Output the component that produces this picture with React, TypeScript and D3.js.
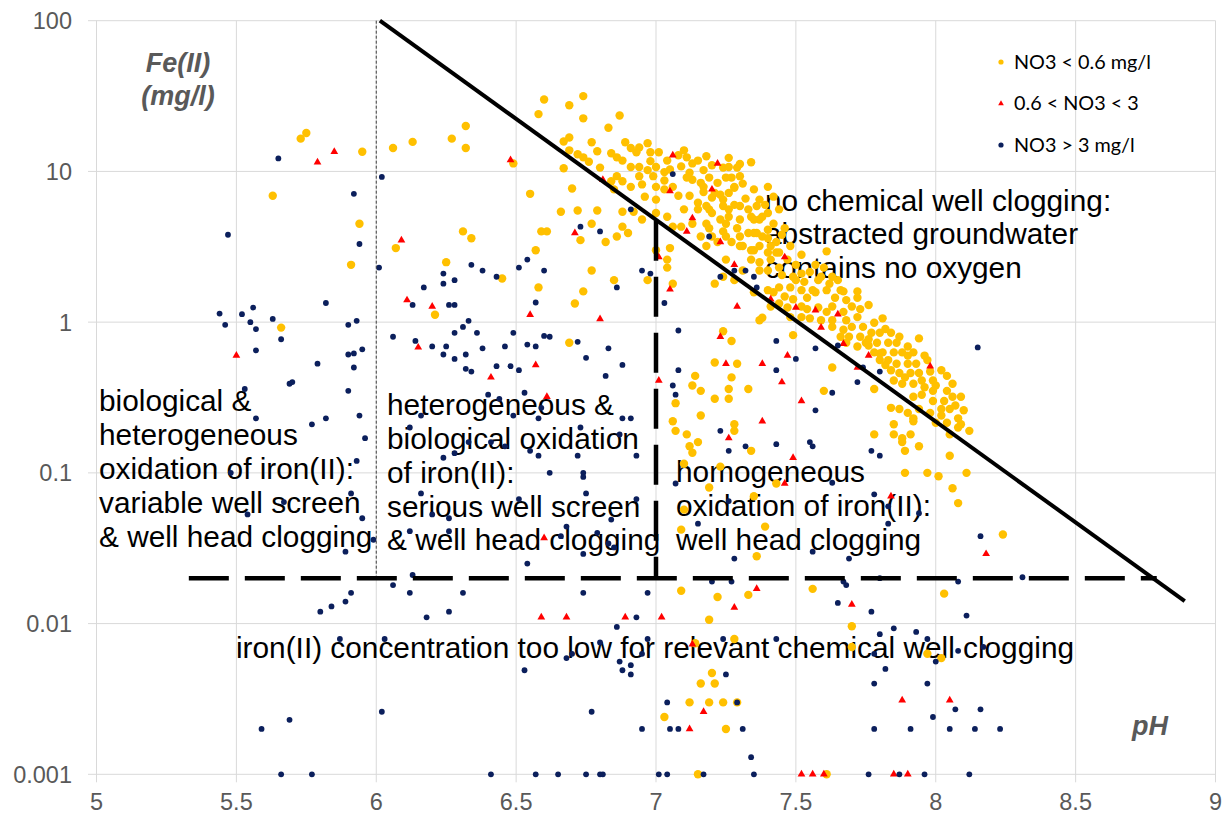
import * as d3 from 'd3';
import React from 'react';

// pH ticks and Fe(II) decades
const xTicks = [5, 5.5, 6, 6.5, 7, 7.5, 8, 8.5, 9];
const yTicks = [0.001, 0.01, 0.1, 1, 10, 100];

const legendLabels = ['NO3 < 0.6 mg/l', '0.6 < NO3 < 3', 'NO3 > 3 mg/l'];

// [pH, Fe(II) mg/l]  NO3 < 0.6 mg/l
const lowNO3: [number, number][] = [
  [5.73,16.5],[5.75,18],[5.63,6.9],[5.95,13.5],[6.06,14.3],[6.13,15.7],[5.94,4.5],[6.07,3.1],[5.91,2.4],[5.66,0.92],
  [6.27,16.5],[6.32,20],[6.32,14.3],[6.49,11.3],[6.25,2.5],[6.31,4.0],[6.34,3.6],[6.45,1.95],[6.21,1.12],[6.55,7.1],
  [6.59,4.0],[6.61,4.0],[6.57,3.0],[6.58,1.7],[6.69,0.73],
  [6.60,30],[6.74,31.6],[6.69,27.5],[6.58,24],[6.74,22.5],[6.87,23.5],[6.83,19.5],
  [6.67,15.8],[6.69,16.8],[6.77,15.6],[6.79,13.6],[6.69,13.8],[6.72,13],[6.74,12.4],[6.76,11.6],[6.80,10.6],[6.84,13.2],[6.86,12.4],[6.89,15.6],[6.91,14.3],[6.93,13.4],[6.94,14.4],[6.97,15.4],[6.98,13.4],[7.01,13.4],[7.04,11.8],[7.08,12.8],[7.11,12.4],[7.13,11.3],[7.15,11.8],
  [6.88,11.8],[6.91,10.7],[6.94,10.7],[6.97,10.2],[7.00,10.7],[7.03,9.9],[6.99,9.3],[6.94,9.3],[6.86,9.3],[6.84,8.6],[6.88,8.6],[6.91,7.9],[6.85,7.6],[7.00,7.9],[7.03,7.6],[7.06,7.9],[7.11,9.1],[7.13,8.8],[7.16,8.4],[7.19,9.1],[7.22,8.4],[7.24,10.6],[7.26,10.7],[7.29,10.6],[7.25,9.1],[7.27,9.1],[7.30,9.3],[7.28,7.8],[7.34,11.5],
  [7.20,6.7],[7.23,7.0],[7.12,6.9],[7.15,6.2],[7.10,5.6],[7.15,5.6],[7.18,5.9],[7.20,5.3],[7.24,5.9],[7.26,5.6],[7.30,5.9],[7.33,5.6],[7.36,5.9],[7.23,4.8],[7.25,4.5],[7.30,4.8],[7.35,4.8],[7.38,5.0],[7.18,4.5],[7.13,4.5],[7.09,4.3],[7.06,4.3],[7.16,3.7],[7.20,3.7],[7.25,3.7],[7.30,3.7],[7.35,3.9],[7.38,3.7],[7.31,3.2],[7.35,3.0],[7.40,2.9],[7.44,2.9],[7.48,3.2],
  [7.04,5.0],[7.00,5.3],[6.95,4.8],[6.92,5.4],[6.88,5.4],[6.77,4.5],[6.88,4.3],[6.90,3.9],[6.86,3.7],[6.82,3.4],[6.73,3.5],[6.66,5.4],[6.72,5.5],[6.79,5.5],[6.70,7.7],[6.67,10.5],[7.05,3.1],[7.04,2.6],[7.04,2.3],[7.00,3.0],[6.77,2.2],[6.85,1.9],[6.97,1.9],[7.06,1.8],[7.21,1.8],
  [7.24,0.87],[7.27,0.75],[7.21,0.54],[7.29,0.53],[7.14,0.44],[7.27,0.43],[7.13,0.38],[7.16,0.35],[7.26,0.36],[7.21,0.31],[7.26,0.31],[7.33,0.36],[7.07,0.29],[7.16,0.24],[7.28,0.21],[7.28,0.19],[7.06,0.22],[7.07,0.19],[7.11,0.18],[7.15,0.16],[7.12,0.15],[7.13,0.136],[7.34,0.14],[7.10,0.115],[7.23,0.11],[7.19,0.08],[7.43,0.085],[7.35,0.07],[7.10,0.057],[7.39,0.044],[7.09,0.042],
  [7.37,2.2],[7.38,1.07],[7.49,0.82],[7.63,0.50],[7.60,0.35],[7.78,0.36],
  [7.17,7.9],[7.21,7.2],[7.24,6.5],[7.28,7.9],[7.31,8.3],[7.35,7.6],[7.37,6.5],[7.40,7.9],[7.19,5.6],[7.26,5.0],[7.34,5.0],[7.37,4.8],[7.40,5.3],[7.19,4.2],[7.24,4.0],[7.29,4.2],[7.33,3.9],[7.36,3.9],[7.40,4.1],[7.27,3.4],[7.30,3.2],[7.34,3.0],[7.37,3.2],[7.41,3.2],[7.43,2.9],[7.18,3.2],[7.22,3.4],[7.25,2.6],[7.34,2.6],[7.37,2.5],[7.41,2.6],[7.44,2.3],[7.31,2.2],[7.40,2.2],[7.45,2.05],[7.49,2.0],[7.52,2.1],[7.55,2.15],[7.61,2.95],[7.59,2.0],[7.63,2.0],[7.62,1.8],[7.66,1.63],[7.61,1.63],[7.56,1.63],[7.52,1.63],[7.48,1.7],[7.44,1.7],[7.40,1.63],[7.42,1.58],[7.46,1.48],[7.49,1.42],[7.54,1.45],[7.57,1.58],[7.72,1.6],[7.72,1.45],[7.70,1.27],[7.73,1.22],[7.76,1.3],[7.24,2.0],[7.28,1.9],[7.35,1.58],[7.41,1.27],[7.44,1.33],[7.47,1.25],[7.52,1.27],[7.54,1.22],[7.58,1.25],[7.61,1.17],[7.63,1.27],[7.67,1.17],[7.48,1.08],[7.52,1.08],[7.55,1.06],[7.59,1.03],[7.63,1.03],[7.68,1.03],[7.72,1.08],[7.63,0.93],[7.67,0.89],[7.70,0.93],[7.74,0.93],[7.78,0.99],[7.81,1.06],[7.84,0.85],[7.80,0.85],[7.77,0.85],[7.73,0.80],[7.69,0.80],[7.66,0.80],[7.68,0.73],[7.72,0.69],[7.75,0.73],[7.79,0.73],[7.83,0.73],[7.86,0.73],[7.90,0.69],[7.94,0.78],[7.78,0.63],[7.81,0.63],[7.85,0.63],[7.88,0.63],[7.92,0.63],[7.83,0.56],[7.86,0.53],[7.90,0.53],[7.93,0.53],[7.84,0.48],[7.87,0.46],[7.91,0.46],[7.94,0.46],[7.85,0.41],[7.88,0.39],[7.92,0.39],[7.95,0.41],[7.99,0.41],[8.04,0.44],[8.06,0.39],[8.04,0.35],[7.99,0.35],[7.95,0.33],[7.92,0.32],[7.99,0.30],[8.03,0.30],[8.06,0.32],[8.09,0.32],[8.02,0.265],[8.05,0.265],[7.98,0.25],[7.94,0.265],[8.08,0.23],[8.04,0.215],[8.09,0.21],[8.12,0.19],[7.84,0.27],[7.87,0.265],[7.90,0.25],[7.92,0.23],[7.85,0.21],[7.85,0.18],[7.91,0.18],[7.88,0.17],[7.78,0.18],[7.37,1.03],
  [8.08,0.20],[8.05,0.13],[8.11,0.10],[8.06,0.079],[8.08,0.063],[8.24,0.039],[7.88,0.16],[7.89,0.14],[7.94,0.15],[7.92,0.22],[7.89,0.10],[7.97,0.10],[8.01,0.095],[7.67,1.6],[7.97,0.56],[8.02,0.48],[8.02,0.24],
  [7.42,4.5],[7.45,3.8],[7.43,3.4],[7.47,2.6],[7.50,2.4],[7.52,2.8],[7.46,4.2],[7.40,3.6],[7.44,5.6],[7.39,6.0],[7.42,6.8],
  [7.58,1.9],[7.60,2.3],[7.65,1.9],[7.68,1.4],[7.64,1.45],[7.57,2.4],[7.53,1.85],[7.50,1.9],
  [7.76,0.70],[7.80,0.62],[7.82,0.90],[7.87,0.80],[7.90,0.60],[7.96,0.60],[7.98,0.47],[8.00,0.38],[7.96,0.37],[7.89,0.43],[7.82,0.52],[7.80,0.56],[7.76,0.77],[8.07,0.28],[8.10,0.26],[8.00,0.215],[8.05,0.18],
  [6.95,8.2],[6.98,11.7],[7.05,10.3],[7.09,10.8],[7.12,9.8],[7.17,10.2],[7.20,11.0],[7.03,8.7],[7.08,6.9],[7.00,6.5],[6.96,6.8],[7.17,7.3],[7.26,7.2],[7.32,6.6],[7.28,6.0],
  [7.18,12.6],[7.26,12.3],[7.30,11.2],[7.10,13.8],
  [7.36,0.028],[7.09,0.0165],[7.22,0.015],[7.33,0.0155],[7.19,0.0106],[7.28,0.0079],[7.14,0.0074],[7.20,0.0047],[7.16,0.004],[7.21,0.004],[7.12,0.003],[7.19,0.003],[7.24,0.003],[7.29,0.003],[7.03,0.0024],[7.25,0.002],[7.15,0.001],[7.56,0.017],[8.03,0.0158],[7.70,0.0096],[7.70,0.007],[7.97,0.0063],[8.02,0.0059],[7.61,0.001],[6.74,1.6],[6.71,1.33],
];

// 0.6 < NO3 < 3
const midNO3: [number, number][] = [
  [5.79,11.5],[5.85,13.5],[6.09,3.5],[6.48,11.9],[6.81,8.8],[7.06,12.8],[7.05,7.4],[7.20,7.6],[7.13,4.9],[7.11,4.0],[7.23,3.4],[7.22,11.3],[7.28,2.4],[7.46,2.7],[6.71,3.9],[7.01,2.7],
  [5.50,0.60],[6.11,1.4],[6.20,1.27],[6.15,0.68],[6.41,0.43],[6.55,1.12],[6.57,0.52],[6.61,0.32],[6.80,1.05],[6.60,0.037],[7.01,0.41],[7.05,1.65],[7.23,0.80],[7.25,0.53],[7.38,0.53],[7.47,0.60],[7.45,0.40],[7.52,0.30],[7.38,0.22],[7.26,0.17],[7.49,0.126],[7.46,0.085],
  [7.29,1.27],[7.41,1.42],[7.50,1.25],[7.57,1.2],[7.65,1.13],[7.59,0.92],[7.67,0.72],[7.76,0.60],[7.72,0.50],[7.98,0.51],
  [6.59,0.011],[6.68,0.011],[6.89,0.011],[7.02,0.011],[7.13,0.0073],[7.17,0.0026],[7.12,0.002],[7.28,0.0128],[7.36,0.017],[7.52,0.001],[7.56,0.001],[7.60,0.001],[8.18,0.029],[7.70,0.0134],[7.88,0.0031],[8.05,0.0031],[7.85,0.001],[7.90,0.001],[7.84,0.07],
];

// NO3 > 3 mg/l
const highNO3: [number, number][] = [
  [5.65,12.2],[6.02,9.2],[5.92,7.1],[5.47,3.8],[5.94,3.3],[6.01,2.3],
  [5.44,1.14],[5.46,0.96],[5.52,1.13],[5.56,1.25],[5.55,1.0],[5.57,0.90],[5.63,1.05],[5.66,0.77],[5.57,0.65],[5.82,1.34],[5.90,0.96],[5.93,1.02],[5.90,0.61],[5.92,0.62],[5.95,0.66],[5.92,0.50],[5.79,0.53],[5.69,0.39],[5.70,0.40],[5.90,0.35],[5.53,0.36],[5.57,0.23],[5.77,0.21],[5.82,0.23],[5.94,0.24],[5.96,0.17],[5.93,0.12],[5.48,0.10],[5.91,0.073],[5.67,0.064],[5.54,0.053],[5.95,0.05],[5.99,0.036],[5.89,0.030],
  [6.17,1.7],[6.24,2.1],[6.24,1.8],[6.28,1.9],[6.34,2.4],[6.38,2.2],[6.43,2.0],[6.51,2.3],[6.54,2.6],[6.60,2.2],[6.73,4.3],[6.80,4.0],[6.91,5.6],[7.06,9.6],[6.13,1.3],[6.26,1.3],[6.28,1.3],[6.57,1.35],[6.86,1.7],[6.95,2.2],[6.98,2.1],
  [6.06,0.80],[6.14,0.75],[6.20,0.69],[6.25,0.69],[6.28,0.85],[6.31,0.93],[6.33,1.02],[6.36,0.85],[6.24,0.61],[6.28,0.57],[6.32,0.61],[6.32,0.49],[6.34,0.47],[6.38,0.67],[6.43,0.51],[6.46,0.69],[6.49,0.85],[6.48,0.51],[6.51,0.48],[6.54,0.71],[6.57,0.69],[6.60,0.81],[6.62,0.80],[6.72,0.74],[6.75,0.58],[6.83,0.67],[6.82,0.44],[6.88,0.52],
  [6.40,0.33],[6.44,0.31],[6.53,0.34],[6.59,0.27],[6.58,0.23],[6.49,0.24],[6.16,0.24],[6.12,0.20],[6.33,0.16],[6.41,0.16],[6.46,0.15],[6.55,0.14],[6.58,0.13],[6.24,0.126],[6.28,0.135],[6.62,0.10],[6.74,0.10],[6.74,0.094],[6.73,0.20],[6.72,0.13],[6.87,0.18],[6.88,0.23],[6.91,0.23],[6.93,0.13],[6.75,0.073],[6.93,0.067],[6.16,0.073],[6.20,0.053],[6.26,0.05],[6.12,0.041],[6.26,0.041],[6.51,0.067],[6.68,0.044],[6.79,0.040],[6.84,0.049],[6.66,0.038],[6.54,0.025],[6.83,0.034],[6.85,0.032],[6.74,0.029],
  [6.13,0.021],[6.06,0.018],[6.12,0.016],[5.91,0.016],[6.31,0.016],[6.74,0.016],[6.97,0.016],[5.89,0.014],[5.84,0.013],[5.80,0.012],[5.87,0.0079],[6.03,0.0079],[6.02,0.0026],[5.69,0.0023],[5.59,0.002],[5.66,0.001],[5.77,0.001],[6.18,0.011],[6.26,0.012],
  [6.53,0.0049],[6.68,0.0059],[6.70,0.0063],[6.80,0.0075],[6.86,0.0095],[6.87,0.0056],[6.88,0.0049],[6.91,0.0053],[6.91,0.0046],[6.95,0.0063],[6.97,0.0079],[6.93,0.011],[6.77,0.0026],[6.95,0.002],[7.04,0.003],[7.05,0.002],[7.08,0.002],[7.31,0.002],[7.34,0.0013],[7.25,0.0046],[7.29,0.003],[7.24,0.0079],[7.43,0.0079],[7.20,0.019],[7.27,0.019],[7.28,0.027],[7.56,0.030],
  [6.41,0.001],[6.57,0.001],[6.65,0.001],[6.75,0.001],[6.80,0.001],[6.81,0.001],[7.01,0.001],[7.04,0.001],[7.17,0.001],[7.35,0.001],
  [7.69,0.027],[7.80,0.020],[7.67,0.019],[7.68,0.018],[7.65,0.0137],[7.77,0.012],[7.80,0.0085],[7.85,0.0093],[7.93,0.0088],[7.97,0.0079],[7.78,0.0063],[7.82,0.005],[8.00,0.0056],[8.08,0.0066],[7.78,0.004],[7.97,0.004],[7.99,0.0024],[8.07,0.0027],[8.16,0.0027],[7.78,0.002],[7.91,0.002],[8.05,0.002],[8.14,0.002],[8.23,0.002],[8.08,0.019],[8.11,0.0113],[8.31,0.0203],[7.76,0.001],[7.87,0.001],[7.96,0.001],[8.12,0.001],[8.17,0.007],
  [8.15,0.68],[7.57,0.67],[7.72,0.40],[7.63,0.34],[7.57,0.26],[7.56,0.15],[7.77,0.14],[7.80,0.13],[7.78,0.072],[7.83,0.060],[7.94,0.054],[7.83,0.046],[8.16,0.038],[7.63,0.086],[7.65,0.70],[7.74,0.50],[7.80,0.47],[7.19,3.7],[7.28,2.2],[7.32,2.2],[7.23,2.0],[7.35,2.0],[7.36,1.7],[7.43,0.75],[7.50,0.57],[7.43,0.48],[7.03,1.34],[7.08,0.88],[7.08,0.48],[7.06,0.38],[7.07,0.33],[7.23,0.19],[7.32,0.15],[7.43,0.155],[7.26,0.14],[7.55,0.16],[7.15,0.046],[7.26,0.065],[7.07,0.085],
];

// boundary lines [pH, Fe]
const solidLine: [number, number][] = [[6.013, 100], [8.89, 0.0141]];
const lowLimit: [number, number][] = [[5.33, 0.02], [8.79, 0.02]];
const phSeven: [number, number][] = [[7, 4.7], [7, 0.02]];
const phSix: [number, number][] = [[6, 100], [6, 0.02]];

const W = 1223, H = 815;
const FONT = '"Liberation Sans", Arial, sans-serif';

export default function App() {
  const x = d3.scaleLinear().domain([5, 9]).range([96.5, 1215.5]);
  const y = d3.scaleLog().domain([0.001, 100]).range([774.3, 20.7]);
  const line = d3.line<[number, number]>().x(d => x(d[0])).y(d => y(d[1]));
  const tri = d3.symbol(d3.symbolTriangle, 26)();
  const triSmall = d3.symbol(d3.symbolTriangle, 14)();

  const colors = ['#FFC000', '#FF0000', '#0B1F5C'];

  return (
    <svg width={W} height={H} style={{ position: 'absolute', left: 0, top: 0, background: '#fff' }}>
      {/* grid */}
      <g stroke="#d9d9d9" strokeWidth={1}>
        {yTicks.map(t => (
          <line key={'gy' + t} x1={88} x2={x(9)} y1={y(t)} y2={y(t)} />
        ))}
        {xTicks.map(t => (
          <line key={'gx' + t} x1={x(t)} x2={x(t)} y1={y(100)} y2={y(0.001) + 8} />
        ))}
      </g>
      <g fill="#595959" fontFamily={FONT} fontSize={23.5}>
        {yTicks.map(t => (
          <text key={'ly' + t} x={72} y={y(t)} dy="0.36em" textAnchor="end">{String(t)}</text>
        ))}
        {xTicks.map(t => (
          <text key={'lx' + t} x={x(t)} y={810} textAnchor="middle">{String(t)}</text>
        ))}
      </g>
      {/* axis titles */}
      <g fill="#595959" fontFamily={FONT} fontSize={27} fontWeight="bold" fontStyle="italic" textAnchor="middle">
        <text x={178} y={72}>Fe(II)</text>
        <text x={178} y={105}>(mg/l)</text>
        <text x={1150} y={735}>pH</text>
      </g>

      {/* annotations */}
      <g fill="#000" fontFamily={FONT} fontSize={29.8}>
        <text x={765} y={211}>no chemical well clogging:</text>
        <text x={765} y={244}>abstracted groundwater</text>
        <text x={765} y={278}>contains no oxygen</text>
        <text x={99} y={411}>biological &amp;</text>
        <text x={99} y={445}>heterogeneous</text>
        <text x={99} y={479}>oxidation of iron(II):</text>
        <text x={99} y={513}>variable well screen</text>
        <text x={99} y={547}>&amp; well head clogging</text>
        <text x={387} y={415}>heterogeneous &amp;</text>
        <text x={387} y={449}>biological oxidation</text>
        <text x={387} y={483}>of iron(II):</text>
        <text x={387} y={517}>serious well screen</text>
        <text x={387} y={550}>&amp; well head clogging</text>
        <text x={676} y={482}>homogeneous</text>
        <text x={676} y={516}>oxidation of iron(II):</text>
        <text x={676} y={550}>well head clogging</text>
        <text x={236} y={658}>iron(II) concentration too low for relevant chemical well clogging</text>
      </g>

      {/* points */}
      <g fill={colors[0]}>
        {lowNO3.map((d, i) => <circle key={'a' + i} cx={x(d[0])} cy={y(d[1])} r={4.2} />)}
      </g>
      <g fill={colors[1]}>
        {midNO3.map((d, i) => <path key={'b' + i} d={tri!} transform={`translate(${x(d[0])},${y(d[1])})`} />)}
      </g>
      <g fill={colors[2]}>
        {highNO3.map((d, i) => <circle key={'c' + i} cx={x(d[0])} cy={y(d[1])} r={2.9} />)}
      </g>

      {/* boundaries */}
      <path d={line(phSix)!} stroke="#404040" strokeWidth={1} strokeDasharray="3,2" fill="none" />
      <path d={line(solidLine)!} stroke="#000" strokeWidth={4} fill="none" />
      <path d={line(lowLimit)!} stroke="#000" strokeWidth={4.5} strokeDasharray="40,16" fill="none" />
      <path d={line(phSeven)!} stroke="#000" strokeWidth={4.5} strokeDasharray="40,16" fill="none" />

      {/* legend */}
      <g fontFamily="Lato, 'Open Sans', sans-serif" fontSize={19.8} fill="#000">
        {legendLabels.map((lab, i) => {
          const ly = 62 + i * 41.5;
          return (
            <g key={lab}>
              {i === 1
                ? <path d={triSmall!} transform={`translate(1001,${ly})`} fill={colors[1]} />
                : <circle cx={1001} cy={ly} r={2.6} fill={colors[i]} />}
              <text x={1014} y={ly} dy="0.35em">{lab}</text>
            </g>
          );
        })}
      </g>
    </svg>
  );
}
